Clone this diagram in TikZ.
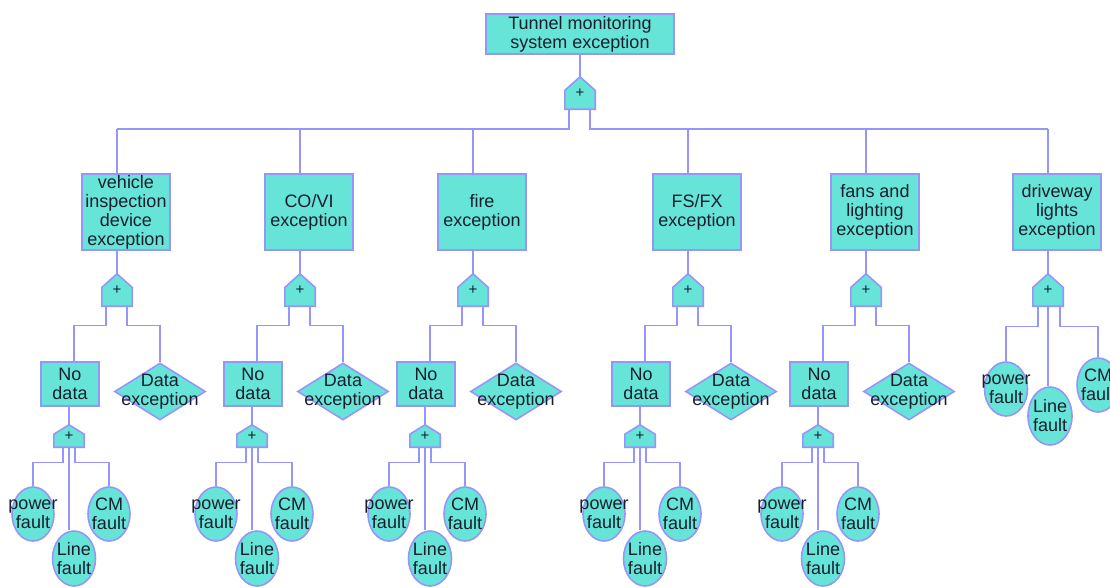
\documentclass[tikz,border=0pt]{standalone}
\usepackage{fontspec}
\setmainfont{Liberation Sans}
\usetikzlibrary{shapes.geometric,backgrounds,calc}
\definecolor{tq}{RGB}{102,228,216}
\definecolor{ln}{RGB}{150,150,250}
\definecolor{tx}{RGB}{25,30,45}
\newcommand\gatedraw[1]{\filldraw[gatesh] (#1.south west) -- ($(#1.north west)!0.42!(#1.south west)$) -- (#1.north) -- ($(#1.north east)!0.42!(#1.south east)$) -- (#1.south east) -- cycle;}
\tikzset{
 lbl/.style={text=tx, font=\fontsize{18}{19}\selectfont, align=center, inner sep=0pt},
 box/.style={lbl, draw=ln, fill=tq, line width=1.6pt},
 topbox/.style={box, minimum width=188, minimum height=40},
 evtbox/.style={box, minimum width=88, minimum height=76},
 ndbox/.style={box, minimum width=58, minimum height=44},
 gatenode/.style={minimum width=30, inner sep=0pt, text=tx, font=\fontsize{15}{15}\selectfont},
 gatesh/.style={draw=ln, fill=tq, line width=1.6pt},
 ell/.style={ellipse, draw=ln, fill=tq, line width=1.6pt, minimum width=42, minimum height=54, inner sep=0pt},
 dia/.style={diamond, draw=ln, fill=tq, line width=1.6pt, minimum width=91, minimum height=57, inner sep=0pt},
 conn/.style={draw=ln, line width=1.4pt},
}
\begin{document}
\begin{tikzpicture}[x=1pt,y=-1pt]
\useasboundingbox (0,0) rectangle (1110,587);
\begin{pgfonlayer}{background}
\fill[white] (0,0) rectangle (1110,587);
\end{pgfonlayer}
\clip (0,0) rectangle (1110,587);
\node[topbox] (top) at (580,34) {Tunnel monitoring\\system exception};
\node[gatenode, minimum height=32] (g0) at (580,93) {+};
\begin{pgfonlayer}{background}\gatedraw{g0}\end{pgfonlayer}
\draw[conn] (top.south) -- (g0.north);
\coordinate (d1) at (117,129);
\coordinate (d2) at (300,129);
\coordinate (d3) at (473,129);
\coordinate (d4) at (688,129);
\coordinate (d5) at (866,129);
\coordinate (d6) at (1048,129);
\draw[conn] ([xshift=-11]g0.south) |- (d1);
\draw[conn] ([xshift=10]g0.south) |- (d6);
\foreach \i/\L/\txt in {1/117/{vehicle\\inspection\\device\\exception}, 2/300/{CO/VI\\exception}, 3/473/{fire\\exception}, 4/688/{FS/FX\\exception}, 5/866/{fans and\\lighting\\exception}, 6/1048/{driveway\\lights\\exception}}{
 \node[evtbox] (b\i) at (\L+9,212) {\txt};
 \node[gatenode, minimum height=32] (g\i) at (\L,290) {+};
 \begin{pgfonlayer}{background}\gatedraw{g\i}\end{pgfonlayer}
 \draw[conn] (d\i) -- (d\i |- b\i.north);
 \draw[conn] (g\i.north |- b\i.south) -- (g\i.north);
}
\foreach \i/\L in {1/117,2/300,3/473,4/688,5/866}{
 \node[ndbox] (nd\i) at (\L-47,384) {No\\data};
 \node[dia, label={[lbl,anchor=center]center:{Data\\exception}}] (de\i) at (\L+43,391.5) {};
 \node[gatenode, minimum height=22] (sg\i) at (\L-48,436) {+};
 \begin{pgfonlayer}{background}\gatedraw{sg\i}\end{pgfonlayer}
 \node[ell, label={[lbl,anchor=center]center:{power\\fault}}] (pf\i) at (\L-84,514) {};
 \node[ell, minimum width=43, minimum height=55, label={[lbl,anchor=center]center:{Line\\fault}}] (lf\i) at (\L-43,558.5) {};
 \node[ell, label={[lbl,anchor=center]center:{CM\\fault}}] (cm\i) at (\L-8,514) {};
 \draw[conn] ([xshift=-11]g\i.south) -- ++(0,19) -| ([xshift=4]nd\i.north);
 \draw[conn] ([xshift=10]g\i.south) -- ++(0,19) -| (de\i.north);
 \draw[conn] (sg\i.north |- nd\i.south) -- (sg\i.north);
 \draw[conn] ([xshift=-6]sg\i.south) -- ++(0,15) -| (pf\i.north);
 \draw[conn] (sg\i.south) -- (sg\i.south |- lf\i.north);
 \draw[conn] ([xshift=6]sg\i.south) -- ++(0,15) -| (cm\i.north);
}
\node[ell, minimum width=43, label={[lbl,anchor=center]center:{power\\fault}}] (pf6) at (1006,389) {};
\node[ell, minimum width=44, minimum height=58, label={[lbl,anchor=center]center:{Line\\fault}}] (lf6) at (1050,416) {};
\node[ell, label={[lbl,anchor=center]center:{CM\\fault}}] (cm6) at (1098,385) {};
\draw[conn] ([xshift=-10]g6.south) -- ++(0,20) -| (pf6.north);
\draw[conn] (g6.south) -- (g6.south |- lf6.north);
\draw[conn] ([xshift=12]g6.south) -- ++(0,20) -| (cm6.north);
\end{tikzpicture}
\end{document}
